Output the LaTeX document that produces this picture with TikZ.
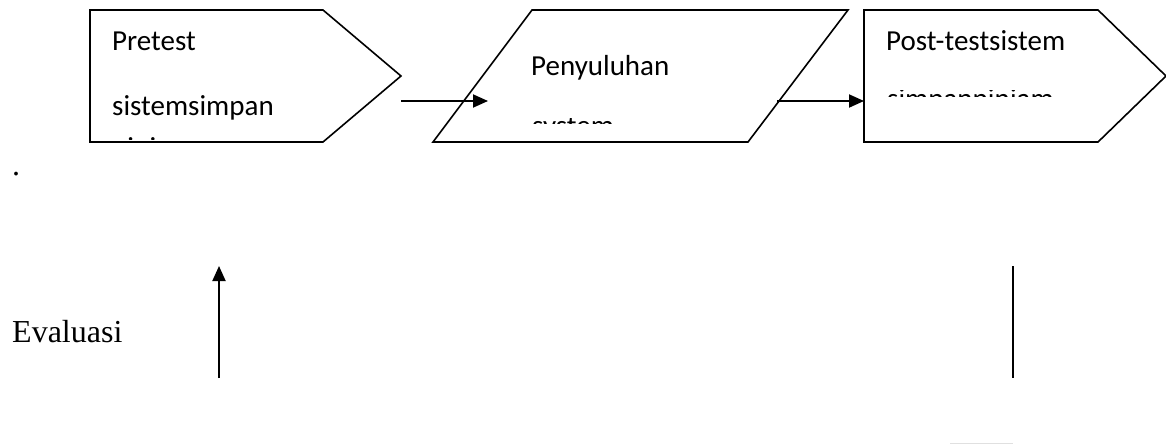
\documentclass[tikz,border=0pt]{standalone}
\usepackage{fontspec}
\setmainfont{Liberation Serif}
\newfontfamily\calibri{Carlito}
\usetikzlibrary{arrows.meta}
\begin{document}
\begin{tikzpicture}[x=1pt,y=-1pt,
  shapeline/.style={draw=black,line width=1.6pt,line join=miter},
  flowarrow/.style={draw=black,line width=1.9pt,-{Triangle[length=15pt,width=13pt]}},
  boxtext/.style={anchor=base west,inner sep=0pt,font=\calibri\fontsize{29}{35}\selectfont},
  bodytext/.style={anchor=base west,inner sep=0pt,font=\fontsize{32}{38}\selectfont}]
\useasboundingbox (0,0) rectangle (1166,444);

% outlines of the three steps
\coordinate (pA) at (90,10);   \coordinate (pB) at (323,10);
\coordinate (pT) at (401,76);  \coordinate (pC) at (323,142);
\coordinate (pD) at (90,142);
\draw[shapeline] (pA) -- (pB) -- (pT) -- (pC) -- (pD) -- cycle;

\coordinate (sA) at (532,10);  \coordinate (sB) at (848,10);
\coordinate (sC) at (748,142); \coordinate (sD) at (433,142);
\draw[shapeline] (sA) -- (sB) -- (sC) -- (sD) -- cycle;

\coordinate (qA) at (864,10);  \coordinate (qB) at (1098,10);
\coordinate (qT) at (1166,76); \coordinate (qC) at (1098,142);
\coordinate (qD) at (864,142);
\draw[shapeline] (qA) -- (qB) -- (qT) -- (qC) -- (qD) -- cycle;

% texts inside the steps (overflowing lines are cut off by the box)
\node[boxtext] (pre1) at (112,51) {Pretest};
\node[boxtext] (pre2) at (112,115) {sistemsimpan};
\begin{scope}
  \clip (95,132) rectangle (320,139.5);
  \node[boxtext] (pre3) at (112,157) {pinjam};
\end{scope}

\node[boxtext] (pen1) at (531,75) {Penyuluhan};
\begin{scope}
  \clip (520,118) rectangle (700,123.5);
  \node[boxtext] (pen2) at (532,135.5) {system};
\end{scope}

\node[boxtext] (post1) at (886,51) {Post-testsistem};
\begin{scope}
  \clip (870,90) rectangle (1090,96.5);
  \node[boxtext] (post2) at (887,108.5) {simpanpinjam};
\end{scope}

% connectors between the steps
\coordinate (a1s) at (401,101); \coordinate (a1e) at (488,101);
\coordinate (a2s) at (777,101); \coordinate (a2e) at (864,101);
\draw[flowarrow] (a1s) -- (a1e);
\draw[flowarrow] (a2s) -- (a2e);

% evaluation part
\node[bodytext] (dot) at (12,175) {.};
\node[bodytext] (eval) at (12,342) {Evaluasi};
\coordinate (upS) at (219,378); \coordinate (upE) at (219,266);
\draw[flowarrow] (upS) -- (upE);
\coordinate (vS) at (1013,266); \coordinate (vE) at (1013,378);
\draw[black,line width=1.5pt] (vS) -- (vE);
\coordinate (gS) at (950,443.5); \coordinate (gE) at (1013,443.5);
\draw[black!12,line width=1pt] (gS) -- (gE);
\end{tikzpicture}
\end{document}
